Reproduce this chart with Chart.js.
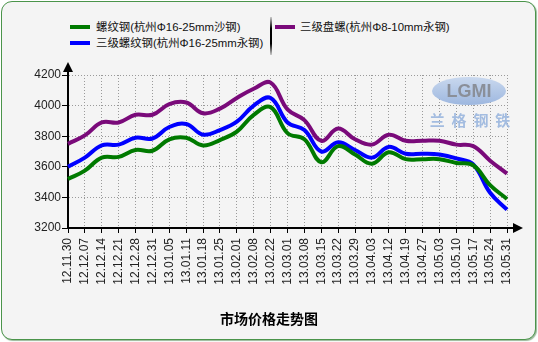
<!DOCTYPE html>
<html>
<head>
<meta charset="utf-8">
<script src="https://cdn.jsdelivr.net/npm/chart.js@4/dist/chart.umd.min.js"></script>
<style>
  html, body { margin: 0; padding: 0; background: #fff; }
  #wrap { position: relative; width: 538px; height: 342px; }
  #frame {
    position: absolute; left: 1px; top: 1px; width: 533px; height: 337px;
    border: 1px solid #4a944a; border-radius: 11px; background: #f4f4f4;
    box-shadow: 1px 1px 1px #9ab89a;
  }
  #chart { position: absolute; left: 0; top: 0; }
  .lg { position: absolute; font: 11.4px "Liberation Sans", Arial, "Noto Sans CJK SC", sans-serif; color: #111; white-space: nowrap; line-height: 14px; }
  .sw { position: absolute; width: 20px; height: 4px; }
  #sep { position: absolute; left: 270px; top: 17px; width: 2px; height: 38px; background: linear-gradient(#ccc, #000 30%, #000 70%, #ccc); }
  #ttl { position: absolute; left: 0; width: 538px; top: 309px; text-align: center; font: bold 14px "Noto Sans CJK SC", sans-serif; color: #000; line-height: 18px; }
</style>
</head>
<body>
<div id="wrap">
  <div id="frame"></div>
  <div class="sw" style="left:70px;top:25px;background:#007a00"></div>
  <div class="lg" style="left:96px;top:20px">螺纹钢(杭州Φ16-25mm沙钢)</div>
  <div class="sw" style="left:70px;top:41px;background:#0000ff"></div>
  <div class="lg" style="left:96px;top:36px">三级螺纹钢(杭州Φ16-25mm永钢)</div>
  <div id="sep"></div>
  <div class="sw" style="left:275px;top:25px;background:#7a0a7a"></div>
  <div class="lg" style="left:300px;top:20px">三级盘螺(杭州Φ8-10mm永钢)</div>
  <canvas id="chart" width="538" height="342"></canvas>
  <div id="ttl">市场价格走势图</div>
</div>
<script>
// --- dados ---
const labels = ['12.11.30','12.12.07','12.12.14','12.12.21','12.12.28','12.12.31','13.01.05','13.01.11','13.01.18',
  '13.01.25','13.02.01','13.02.08','13.02.22','13.03.01','13.03.08','13.03.15','13.03.22','13.03.29','13.04.03',
  '13.04.12','13.04.19','13.04.27','13.05.03','13.05.10','13.05.17','13.05.24','13.05.31'];

const shagang = [3520,3575,3660,3665,3710,3705,3780,3790,3740,3775,3830,3940,3990,3820,3780,3630,3735,3680,3620,
  3695,3650,3650,3650,3625,3610,3480,3390];
const yonggang = [3600,3660,3740,3745,3790,3785,3860,3880,3810,3840,3895,4000,4050,3890,3840,3700,3760,3710,3660,
  3730,3685,3685,3680,3655,3615,3430,3320];
const panluo = [3750,3805,3890,3890,3940,3940,4010,4020,3950,3980,4050,4110,4150,3975,3905,3770,3850,3780,3745,
  3810,3770,3770,3770,3745,3735,3640,3555];

const yMin = 3200, yMax = 4200, yStep = 200;

const FONT = '"Liberation Sans", Arial, "Noto Sans CJK SC", sans-serif';

// setas dos eixos + marca d'agua
const axisArrows = {
  id: 'axisArrows',
  beforeDatasetsDraw(chart) {
    const ctx = chart.ctx;
    ctx.save();
    const cx = 469, cy = 91;
    const g = ctx.createLinearGradient(0, cy - 14, 0, cy + 14);
    g.addColorStop(0, '#c9d8ee');
    g.addColorStop(1, '#9db7df');
    ctx.fillStyle = g;
    ctx.beginPath();
    ctx.ellipse(cx, cy, 37, 14, 0, 0, Math.PI * 2);
    ctx.fill();
    ctx.fillStyle = '#8a8f99';
    ctx.font = 'bold 18px ' + FONT;
    ctx.textAlign = 'center';
    ctx.textBaseline = 'middle';
    ctx.fillText('LGMI', cx, cy + 1);
    ctx.fillStyle = '#a3bce0';
    ctx.font = 'bold 15px "Noto Sans CJK SC", sans-serif';
    ctx.fillText('兰  格  钢  铁', cx + 1, 120);
    ctx.restore();
  },
  afterDraw(chart) {
    const ctx = chart.ctx;
    const a = chart.chartArea;
    ctx.save();
    ctx.strokeStyle = '#000';
    ctx.fillStyle = '#000';
    ctx.lineWidth = 2;
    ctx.beginPath();
    ctx.moveTo(a.left, a.top);
    ctx.lineTo(a.left, a.top - 5);
    ctx.moveTo(a.right, a.bottom);
    ctx.lineTo(a.right + 7, a.bottom);
    ctx.stroke();
    ctx.beginPath();
    ctx.moveTo(a.left, a.top - 13);
    ctx.lineTo(a.left - 5, a.top - 3);
    ctx.lineTo(a.left + 5, a.top - 3);
    ctx.closePath();
    ctx.fill();
    ctx.beginPath();
    ctx.moveTo(a.right + 16, a.bottom);
    ctx.lineTo(a.right + 6, a.bottom - 5);
    ctx.lineTo(a.right + 6, a.bottom + 5);
    ctx.closePath();
    ctx.fill();
    ctx.restore();
  }
};

function ds(data, color) {
  return {
    data: data,
    borderColor: color,
    backgroundColor: color,
    borderWidth: 4,
    pointRadius: 0,
    tension: 0.4,
    fill: false
  };
}

new Chart(document.getElementById('chart'), {
  type: 'line',
  data: {
    labels: labels,
    datasets: [
      ds(shagang, '#007a00'),
      ds(yonggang, '#0000ff'),
      ds(panluo, '#7a0a7a')
    ]
  },
  options: {
    responsive: false,
    animation: false,
    layout: { padding: { left: 0, right: 31, top: 75, bottom: 34 } },
    plugins: {
      legend: { display: false },
      tooltip: { enabled: false }
    },
    scales: {
      x: {
        afterFit(s) { s.height = 80; },
        grid: { color: '#9a9a9a', tickColor: '#000', tickLength: 5, tickWidth: 1, tickBorderDash: [] },
        border: { color: '#000', width: 2, dash: [1, 2] },
        ticks: {
          autoSkip: false, minRotation: 90, maxRotation: 90, padding: 5,
          color: '#222', font: { family: FONT, size: 12 }
        }
      },
      y: {
        min: yMin, max: yMax,
        afterFit(s) { s.width = 68; },
        grid: { color: '#9a9a9a', tickColor: '#000', tickLength: 6, tickWidth: 1, tickBorderDash: [] },
        border: { color: '#000', width: 2, dash: [1, 2] },
        ticks: {
          stepSize: yStep, padding: 1, color: '#222', font: { family: FONT, size: 12 },
          callback: v => String(v)
        }
      }
    }
  },
  plugins: [axisArrows]
});
</script>
</body>
</html>
